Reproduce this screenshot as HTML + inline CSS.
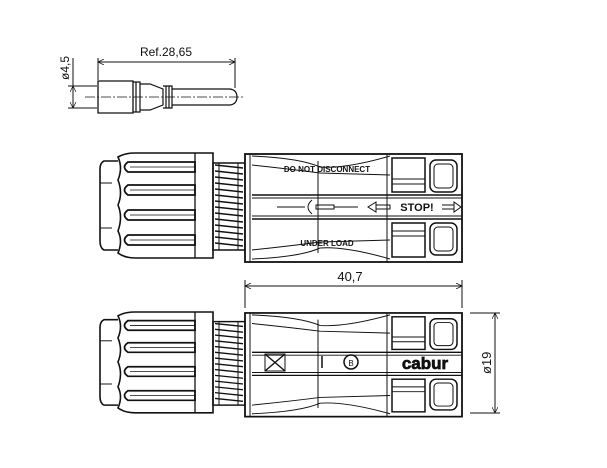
<!DOCTYPE html>
<html><head><meta charset="utf-8"><style>
html,body{margin:0;padding:0;background:#fff;}
svg{display:block;}
text{font-family:"Liberation Sans",sans-serif;fill:#111;}
</style></head><body>
<svg width="607" height="468" viewBox="0 0 607 468" xmlns="http://www.w3.org/2000/svg" fill="none" stroke="#111" stroke-width="1">
<defs>
<marker id="ar" viewBox="0 0 10 10" refX="10" refY="5" markerWidth="8" markerHeight="6" orient="auto-start-reverse"><path d="M0,0 L10,5 L0,10" fill="none" stroke="#111" stroke-width="1.2"/></marker>
<g id="conn">
  <!-- hex nut -->
  <path d="M118,8 L104,8 Q100,10 100,16 L100,88 Q100,95 104,97 L118,97" stroke-width="1.6"/>
  <line x1="100" y1="30" x2="112" y2="30"/><line x1="100" y1="75" x2="112" y2="75"/>
  <!-- knurled nut -->
  <path d="M118,4 Q125,0 135,0 L213,0 L213,105 L135,105 Q125,105 118,100 Q123,88 118,78 Q123,64 118,52 Q123,40 118,27 Q123,15 118,4 Z" fill="#fff" stroke-width="1.6"/>
  <g stroke-width="1.8">
    <path d="M128,9 L195,9 L195,19 L128,19 Q121,14 128,9Z"/>
    <path d="M128,32 L195,32 L195,42 L128,42 Q121,37 128,32Z"/>
    <path d="M128,57 L195,57 L195,67 L128,67 Q121,62 128,57Z"/>
    <path d="M128,82 L195,82 L195,92 L128,92 Q121,87 128,82Z"/>
  </g>
  <g stroke-width="0.8">
    <line x1="130" y1="14" x2="195" y2="14"/><line x1="130" y1="37" x2="195" y2="37"/>
    <line x1="130" y1="62" x2="195" y2="62"/><line x1="130" y1="87" x2="195" y2="87"/>
  </g>
  <line x1="195" y1="0" x2="195" y2="105" stroke-width="1.3"/>
  <!-- thread -->
  <rect x="213" y="10" width="32" height="87" stroke-width="1.5"/>
  <path d="M215,12 L243,15 M215,18 L243,21 M215,24 L243,27 M215,30 L243,33 M215,36 L243,39 M215,42 L243,45 M215,48 L243,51 M215,54 L243,57 M215,60 L243,63 M215,66 L243,69 M215,72 L243,75 M215,78 L243,81 M215,84 L243,87 M215,90 L243,93" stroke-width="1.4"/>
  <line x1="219" y1="10" x2="219" y2="97"/><line x1="238" y1="10" x2="238" y2="97"/>
  <!-- body -->
  <rect x="245" y="1" width="217" height="108" fill="#fff" stroke-width="1.8"/>
  <line x1="250" y1="1" x2="250" y2="109"/>
  <path d="M252,3 Q300,5 320,14 Q345,16 390,3" />
  <path d="M252,106 Q300,104 320,95 Q345,93 390,106" />
  <path d="M252,12 Q290,16 320,20 L390,22"/>
  <path d="M252,97 Q290,93 320,89 L390,87"/>
  <line x1="252" y1="42" x2="462" y2="42" stroke-width="1.4"/>
  <line x1="252" y1="66" x2="462" y2="66" stroke-width="1.4"/>
  <line x1="252" y1="45" x2="462" y2="45"/>
  <line x1="252" y1="63" x2="462" y2="63"/>
  <line x1="318" y1="8" x2="318" y2="100" stroke-width="1"/>
  <line x1="387" y1="1" x2="387" y2="109"/>
  <!-- slots -->
  <rect x="392" y="5" width="33" height="34" stroke-width="1.5"/>
  <line x1="392" y1="26" x2="425" y2="26"/><line x1="392" y1="31" x2="425" y2="31"/>
  <rect x="430" y="7" width="27" height="32" rx="6" stroke-width="1.5"/>
  <rect x="434" y="11" width="19" height="24" rx="4"/>
  <rect x="392" y="70" width="33" height="34" stroke-width="1.5"/>
  <line x1="392" y1="78" x2="425" y2="78"/><line x1="392" y1="83" x2="425" y2="83"/>
  <rect x="430" y="70" width="27" height="32" rx="6" stroke-width="1.5"/>
  <rect x="434" y="74" width="19" height="24" rx="4"/>
</g>
</defs>

<!-- pin -->
<line x1="85" y1="97" x2="245" y2="97" stroke-dasharray="10,2,2,2" stroke-width="0.8"/>
<path d="M98,81 L133,81 L133,113 L98,113 Z" stroke-width="1.3"/>
<path d="M133,82 L140,82 L140,112 L133,112 M136,82 L136,112" stroke-width="1.2"/>
<path d="M140,84 L150,84 L163,89 L163,105 L150,110 L140,110" stroke-width="1.2"/>
<path d="M163,86 L172,86 L172,108 L163,108 M166,86 L166,108 M169,86 L169,108" stroke-width="1.2"/>
<path d="M172,89 L230,89 Q237,90 237,97 Q237,104 230,105 L172,105" stroke-width="1.2"/>
<line x1="98" y1="58" x2="98" y2="80"/><line x1="235" y1="58" x2="235" y2="88"/>
<line x1="98" y1="62" x2="235" y2="62" marker-start="url(#ar)" marker-end="url(#ar)"/>
<text x="166" y="56" font-size="12" text-anchor="middle" stroke="none">Ref.28,65</text>
<line x1="68" y1="86" x2="97" y2="86"/><line x1="68" y1="108" x2="97" y2="108"/>
<line x1="73" y1="58" x2="73" y2="108" />
<line x1="73" y1="86" x2="73" y2="108" marker-start="url(#ar)" marker-end="url(#ar)"/>
<text transform="translate(69,80) rotate(-90)" font-size="12" stroke="none">ø4,5</text>

<!-- top connector -->
<use href="#conn" transform="translate(0,153)"/>
<text x="327" y="172" font-size="8" font-weight="bold" text-anchor="middle" stroke="none">DO NOT DISCONNECT</text>
<text x="327" y="246" font-size="8" font-weight="bold" text-anchor="middle" stroke="none">UNDER LOAD</text>
<text x="417" y="211" font-size="11" font-weight="bold" text-anchor="middle" stroke="none">STOP!</text>
<path d="M376,205 L390,205 L390,209 L376,209 M376,202 L368,207 L376,212 Z M442,205 L454,205 M442,209 L454,209 M454,202 L461,207 L454,212 Z" stroke-width="1"/>
<path d="M277,207 L305,207 M312,200 Q304,207 312,214 M316,205 L334,205 L334,209 L316,209 Z M334,207 L358,207" stroke-width="1"/>

<!-- bottom connector -->
<use href="#conn" transform="translate(0,312) scale(1,0.96)"/>
<rect x="265" y="354" width="20" height="17"/>
<path d="M265,354 L285,371 M285,354 L265,371" stroke-width="1.4"/>
<line x1="322" y1="356" x2="322" y2="368" stroke-width="1.5"/>
<circle cx="351" cy="362" r="7" stroke-width="1.5"/>
<text x="351" y="366" font-size="8" text-anchor="middle" stroke="none">B</text>
<text x="425" y="369" font-size="17" text-anchor="middle" stroke="#111" stroke-width="0.7" fill="#fff" font-weight="bold">cabur</text>

<!-- 40,7 dimension -->
<line x1="245" y1="280" x2="245" y2="308"/><line x1="462" y1="280" x2="462" y2="308"/>
<line x1="245" y1="286" x2="462" y2="286" marker-start="url(#ar)" marker-end="url(#ar)"/>
<text x="350" y="281" font-size="13" text-anchor="middle" stroke="none">40,7</text>
<!-- ø19 -->
<line x1="470" y1="313" x2="500" y2="313"/><line x1="470" y1="413" x2="500" y2="413"/>
<line x1="495" y1="313" x2="495" y2="413" marker-start="url(#ar)" marker-end="url(#ar)"/>
<text transform="translate(491,374) rotate(-90)" font-size="13" stroke="none">ø19</text>
</svg>
</body></html>
